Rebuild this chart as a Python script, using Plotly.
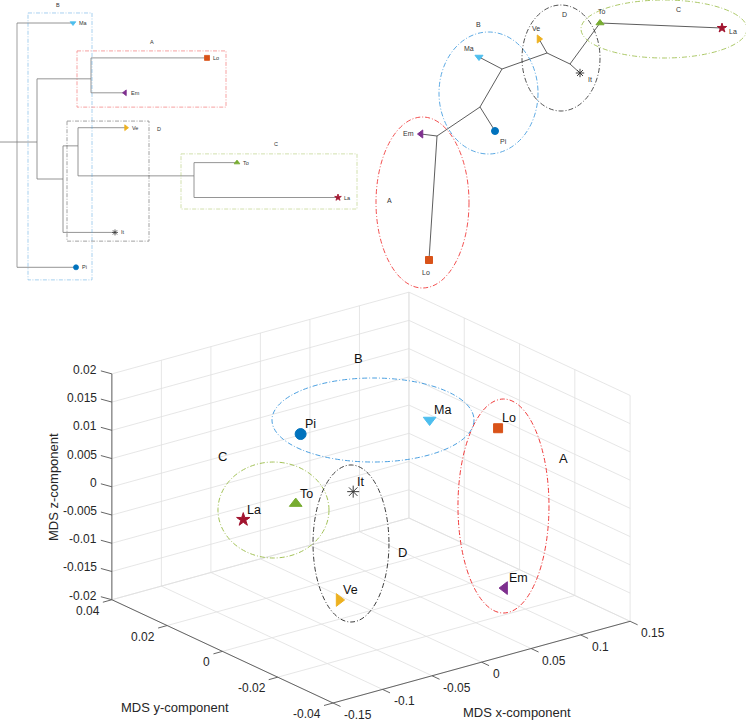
import numpy as np
import plotly.graph_objects as go

FONT = "Liberation Sans, Arial, Helvetica, sans-serif"
INK = "#262626"
FIG_W, FIG_H = 746, 720

# ---------------- languages ----------------
langs = ["Pi", "Ma", "Lo", "Em", "Ve", "It", "To", "La"]
lang_colors = ["#0072BD", "#4DBEEE", "#D95319", "#7E2F8E", "#EDB120", "#3a3a3a", "#77AC30", "#A2142F"]
lang_symbols = ["circle", "triangle-down", "square", "triangle-left", "triangle-right",
                "asterisk-open", "triangle-up", "star"]
COL = dict(zip(langs, lang_colors))
SYM = dict(zip(langs, lang_symbols))

# ---------------- clusters ----------------
clusters = ["A", "B", "C", "D"]
cluster_members = [["Lo", "Em"], ["Ma", "Pi"], ["To", "La"], ["Ve", "It"]]
cluster_colors = ["#f03c3c", "#4a9fe0", "#a3c257", "#3c3c3c"]
CCOL = dict(zip(clusters, cluster_colors))

# ---------------- dendrogram (top-left) ----------------
dn_nodes = ["root", "Ma", "mid", "Pi", "Agrp", "Lo", "Em", "Dgrp", "VTL", "It", "Ve", "TL", "To", "La"]
dn_parent = [None, "root", "root", "root", "mid", "Agrp", "Agrp", "mid", "Dgrp", "Dgrp", "VTL", "VTL", "TL", "TL"]
dn_dist = [0.0, 0.056, 0.020, 0.059, 0.074, 0.190, 0.108, 0.046, 0.061, 0.098, 0.109, 0.177, 0.220, 0.321]
dn_pos = [4.41, 1, 4.41, 8, 2.60, 2, 3, 5.47, 4.52, 7, 4, 5.38, 5, 6]
dn_root_stem = 0.017
# cluster boxes on the dendrogram: (dist0, dist1, pos0, pos1)
dn_box_d0 = [0.060, 0.011, 0.164, 0.050]
dn_box_d1 = [0.209, 0.075, 0.340, 0.132]
dn_box_p0 = [1.80, 0.713, 4.75, 3.81]
dn_box_p1 = [3.41, 8.36, 6.33, 7.25]
dn_lab_d = [0.135, 0.041, 0.259, 0.142]
dn_lab_p = [1.544, 0.484, 4.47, 4.04]

# ---------------- unrooted tree (top-right) ----------------
ut_nodes = ["To", "La", "n1", "It", "n2", "Ve", "n3", "Ma", "n4", "Pi", "n5", "Em", "Lo"]
ut_x = [2.30, 3.52, 2.00, 2.10, 1.77, 1.69, 1.32, 1.09, 1.10, 1.25, 0.67, 0.51, 0.59]
ut_y = [2.77, 2.72, 2.36, 2.27, 2.47, 2.61, 2.31, 2.43, 1.93, 1.69, 1.64, 1.66, 0.40]
ut_edges = [("To", "La"), ("To", "n1"), ("n1", "It"), ("n1", "n2"), ("n2", "Ve"), ("n2", "n3"),
            ("n3", "Ma"), ("n3", "n4"), ("n4", "Pi"), ("n4", "n5"), ("n5", "Em"), ("n5", "Lo")]
# cluster ellipses: bounding boxes
ut_ell_x0 = [0.06, 0.69, 2.11, 1.52]
ut_ell_x1 = [0.99, 1.68, 3.77, 2.30]
ut_ell_y0 = [0.12, 1.46, 2.42, 1.89]
ut_ell_y1 = [1.83, 2.68, 3.00, 2.95]
ut_lab_x = [0.19, 1.08, 3.08, 1.94]
ut_lab_y = [1.00, 2.76, 2.91, 2.86]

# ---------------- MDS 3-D coordinates ----------------
mds_x = [-0.085, 0.129, 0.106, 0.107, -0.102, -0.004, -0.076, -0.115]
mds_y = [-0.005, 0.025, -0.008, -0.010, -0.025, 0.005, 0.000, 0.005]
mds_z = [0.0165, 0.0018, 0.0090, -0.0189, -0.0075, 0.0001, 0.0026, 0.0005]

x_ticks = [-0.15, -0.1, -0.05, 0, 0.05, 0.1, 0.15]
x_tick_labels = ["-0.15", "-0.1", "-0.05", "0", "0.05", "0.1", "0.15"]
y_ticks = [-0.04, -0.02, 0, 0.02, 0.04]
y_tick_labels = ["-0.04", "-0.02", "0", "0.02", "0.04"]
z_ticks = [-0.02, -0.015, -0.01, -0.005, 0, 0.005, 0.01, 0.015, 0.02]
z_tick_labels = ["-0.02", "-0.015", "-0.01", "-0.005", "0", "0.005", "0.01", "0.015", "0.02"]

fig = go.Figure()

# ======================= dendrogram =======================
idx = {n: i for i, n in enumerate(dn_nodes)}
hx, hy, vx, vy, rvx, rvy = [], [], [], [], [], []
for n, p in zip(dn_nodes, dn_parent):
    if p is None:
        continue
    i, j = idx[n], idx[p]
    tx, ty = (rvx, rvy) if p == "root" else (vx, vy)
    tx += [dn_dist[j], dn_dist[j], None]
    ty += [dn_pos[j], dn_pos[i], None]
    hx += [dn_dist[j], dn_dist[i], None]
    hy += [dn_pos[i], dn_pos[i], None]
r = idx["root"]
hx += [dn_dist[r] - dn_root_stem, dn_dist[r], None]
hy += [dn_pos[r], dn_pos[r], None]
fig.add_trace(go.Scatter(x=rvx, y=rvy, mode="lines", line=dict(color="#cfcfcf", width=2),
                         hoverinfo="skip", xaxis="x", yaxis="y"))
fig.add_trace(go.Scatter(x=vx + hx, y=vy + hy, mode="lines", line=dict(color="#7a7a7a", width=0.8),
                         hoverinfo="skip", xaxis="x", yaxis="y"))
for lg in langs:
    i = idx[lg]
    fig.add_trace(go.Scatter(x=[dn_dist[i]], y=[dn_pos[i]], mode="markers",
                             marker=dict(symbol=SYM[lg], size=5, color=COL[lg],
                                         line=dict(color=COL[lg], width=0.8)),
                             hoverinfo="skip", xaxis="x", yaxis="y"))
    fig.add_annotation(x=dn_dist[i], y=dn_pos[i], xref="x", yref="y", text=lg, showarrow=False,
                       xanchor="left", yanchor="middle", xshift=4,
                       font=dict(family=FONT, size=5.5, color="#333"))
for k, c in enumerate(clusters):
    fig.add_shape(type="rect", xref="x", yref="y", x0=dn_box_d0[k], x1=dn_box_d1[k],
                  y0=dn_box_p0[k], y1=dn_box_p1[k],
                  line=dict(color=CCOL[c], width=0.8, dash="4px,1.5px,1px,1.5px"), opacity=0.6)
    fig.add_annotation(x=dn_lab_d[k], y=dn_lab_p[k], xref="x", yref="y", text=c, showarrow=False,
                       xanchor="center", yanchor="middle",
                       font=dict(family=FONT, size=5.5, color="#333"))

# ======================= unrooted tree =======================
uidx = {n: i for i, n in enumerate(ut_nodes)}
ex, ey = [], []
for a, b in ut_edges:
    ex += [ut_x[uidx[a]], ut_x[uidx[b]], None]
    ey += [ut_y[uidx[a]], ut_y[uidx[b]], None]
fig.add_trace(go.Scatter(x=ex, y=ey, mode="lines", line=dict(color="#333333", width=0.8),
                         hoverinfo="skip", xaxis="x2", yaxis="y2"))
ut_label_shift = {"To": (2, 12), "La": (11, -3), "It": (10, -6), "Ve": (-3, 11),
                  "Ma": (-10, 9), "Pi": (8, -10), "Em": (-13, 1), "Lo": (-3, -12)}
for lg in langs:
    i = uidx[lg]
    fig.add_trace(go.Scatter(x=[ut_x[i]], y=[ut_y[i]], mode="markers",
                             marker=dict(symbol=SYM[lg], size=7, color=COL[lg],
                                         line=dict(color=COL[lg], width=1)),
                             hoverinfo="skip", xaxis="x2", yaxis="y2"))
    sx_, sy_ = ut_label_shift[lg]
    fig.add_annotation(x=ut_x[i], y=ut_y[i], xref="x2", yref="y2", text=lg, showarrow=False,
                       xanchor="center", yanchor="middle",
                       xshift=sx_, yshift=sy_, font=dict(family=FONT, size=7, color="#333"))
for k, c in enumerate(clusters):
    fig.add_shape(type="circle", xref="x2", yref="y2", x0=ut_ell_x0[k], x1=ut_ell_x1[k],
                  y0=ut_ell_y0[k], y1=ut_ell_y1[k],
                  line=dict(color=CCOL[c], width=0.9, dash="5px,2px,1px,2px"))
    fig.add_annotation(x=ut_lab_x[k], y=ut_lab_y[k], xref="x2", yref="y2", text=c, showarrow=False,
                       xanchor="center", yanchor="middle",
                       font=dict(family=FONT, size=7, color="#333"))

# ======================= 3-D MDS (orthographic projection) =======================
AZ, EL = 37.5, 21.0
BOX = (1.0, 0.97, 0.646)
XL, YL, ZL = (x_ticks[0], x_ticks[-1]), (y_ticks[0], y_ticks[-1]), (z_ticks[0], z_ticks[-1])
S = 374.5  # pixels per projected unit
OX, OY = 333, 703  # pixel position of the front-bottom corner


def proj(x, y, z):
    x = np.asarray(x, float); y = np.asarray(y, float); z = np.asarray(z, float)
    xn = (x - XL[0]) / (XL[1] - XL[0]) * BOX[0]
    yn = (y - YL[0]) / (YL[1] - YL[0]) * BOX[1]
    zn = (z - ZL[0]) / (ZL[1] - ZL[0]) * BOX[2]
    a, e = np.deg2rad(AZ), np.deg2rad(EL)
    sx = xn * np.cos(a) - yn * np.sin(a)
    sy = (xn * np.sin(a) + yn * np.cos(a)) * np.sin(e) + zn * np.cos(e)
    return sx, sy


def seg_list(segs):
    xs, ys = [], []
    for (p0, p1) in segs:
        a0 = proj(*p0); a1 = proj(*p1)
        xs += [float(a0[0]), float(a1[0]), None]
        ys += [float(a0[1]), float(a1[1]), None]
    return xs, ys


grid = []
for xt in x_ticks:
    grid.append(((xt, YL[1], ZL[0]), (xt, YL[1], ZL[1])))
    grid.append(((xt, YL[0], ZL[0]), (xt, YL[1], ZL[0])))
for zt in z_ticks:
    grid.append(((XL[0], YL[1], zt), (XL[1], YL[1], zt)))
    grid.append(((XL[1], YL[0], zt), (XL[1], YL[1], zt)))
for yt in y_ticks:
    grid.append(((XL[1], yt, ZL[0]), (XL[1], yt, ZL[1])))
    grid.append(((XL[0], yt, ZL[0]), (XL[1], yt, ZL[0])))
gx, gy = seg_list(grid)
fig.add_trace(go.Scatter(x=gx, y=gy, mode="lines", line=dict(color="#e0e0e0", width=0.8),
                         hoverinfo="skip", xaxis="x3", yaxis="y3"))

axes_lines = [((XL[0], YL[1], ZL[0]), (XL[0], YL[1], ZL[1])),
              ((XL[0], YL[0], ZL[0]), (XL[0], YL[1], ZL[0])),
              ((XL[0], YL[0], ZL[0]), (XL[1], YL[0], ZL[0]))]
ax_x, ax_y = seg_list(axes_lines)

tick_x, tick_y = [], []
tick_sets = [
    ([(XL[0], YL[1], zt) for zt in z_ticks], z_tick_labels, (-11, 3), dict(xanchor="right", xshift=-13, yshift=4)),
    ([(XL[0], yt, ZL[0]) for yt in y_ticks], y_tick_labels, (-9, -2.5), dict(xanchor="right", xshift=-10, yshift=-11)),
    ([(xt, YL[0], ZL[0]) for xt in x_ticks], x_tick_labels, (7.5, -3.5), dict(xanchor="left", xshift=9, yshift=-12)),
]
for pts, labels, (dx, dy), anno in tick_sets:
    for p, lab in zip(pts, labels):
        px, py = proj(*p)
        px, py = float(px), float(py)
        tick_x += [px, px + dx / S, None]
        tick_y += [py, py + dy / S, None]
        fig.add_annotation(x=px, y=py, xref="x3", yref="y3", text=lab, showarrow=False,
                           yanchor="middle", font=dict(family=FONT, size=12, color=INK), **anno)
fig.add_trace(go.Scatter(x=ax_x + tick_x, y=ax_y + tick_y, mode="lines",
                         line=dict(color="#555555", width=0.9), hoverinfo="skip",
                         xaxis="x3", yaxis="y3"))

px_pts, py_pts = proj(mds_x, mds_y, mds_z)
mds_sizes = {"Pi": 11, "Ma": 11, "Lo": 9, "Em": 11, "Ve": 11, "It": 10, "To": 11, "La": 10}
for k, lg in enumerate(langs):
    fig.add_trace(go.Scatter(x=[float(px_pts[k])], y=[float(py_pts[k])], mode="markers",
                             marker=dict(symbol=SYM[lg], size=mds_sizes[lg], color=COL[lg],
                                         line=dict(color=COL[lg], width=1)),
                             hoverinfo="skip", xaxis="x3", yaxis="y3"))
    fig.add_annotation(x=float(px_pts[k]), y=float(py_pts[k]), xref="x3", yref="y3", text=lg,
                       showarrow=False, xanchor="left", yanchor="middle", xshift=2, yshift=10,
                       font=dict(family=FONT, size=12.5, color="#111"))

# screen-space cluster ellipses over the 3-D view (paper coordinates)
e3_x0 = [0.6139, 0.3646, 0.2922, 0.4196]
e3_x1 = [0.7359, 0.6354, 0.4410, 0.5214]
e3_y0 = [0.1486, 0.3583, 0.2250, 0.1361]
e3_y1 = [0.4458, 0.4750, 0.3583, 0.3542]
e3_lab_x = [0.7560, 0.4799, 0.2989, 0.5389]
e3_lab_y = [0.3625, 0.5014, 0.3653, 0.2333]
for k, c in enumerate(clusters):
    fig.add_shape(type="circle", xref="paper", yref="paper", x0=e3_x0[k], x1=e3_x1[k],
                  y0=e3_y0[k], y1=e3_y1[k], layer="above",
                  line=dict(color=CCOL[c], width=1, dash="5px,2px,1px,2px"))
    fig.add_annotation(x=e3_lab_x[k], y=e3_lab_y[k], xref="paper", yref="paper", text=c,
                       xanchor="center", yanchor="middle",
                       showarrow=False, font=dict(family=FONT, size=13, color="#111"))

# axis titles
title_font = dict(family=FONT, size=13, color=INK)
fig.add_annotation(x=53 / FIG_W, y=1 - 487 / FIG_H, xref="paper", yref="paper", text="MDS z-component",
                   textangle=-90, showarrow=False, xanchor="center", yanchor="middle", font=title_font)
fig.add_annotation(x=175 / FIG_W, y=1 - 707 / FIG_H, xref="paper", yref="paper", text="MDS y-component",
                   showarrow=False, xanchor="center", yanchor="middle", font=title_font)
fig.add_annotation(x=517 / FIG_W, y=1 - 712 / FIG_H, xref="paper", yref="paper", text="MDS x-component",
                   showarrow=False, xanchor="center", yanchor="middle", font=title_font)

hidden = dict(visible=False, fixedrange=True)
fig.update_layout(
    width=FIG_W, height=FIG_H, margin=dict(l=0, r=0, t=0, b=0),
    paper_bgcolor="white", plot_bgcolor="rgba(0,0,0,0)", showlegend=False,
    xaxis=dict(domain=[0, 370 / FIG_W], range=[-0.017, 0.353], **hidden),
    yaxis=dict(domain=[1 - 290 / FIG_H, 1], range=[8.65, 0.341], **hidden),
    xaxis2=dict(domain=[370 / FIG_W, 1], range=[0, 3.76], **hidden),
    yaxis2=dict(domain=[1 - 300 / FIG_H, 1], range=[0, 3.0], **hidden),
    xaxis3=dict(domain=[0, 1], range=[-OX / S, (FIG_W - OX) / S], **hidden),
    yaxis3=dict(domain=[0, 1], range=[-(FIG_H - OY) / S, OY / S], **hidden),
)
fig.write_html("out.html", config={"displayModeBar": False},
               post_script="document.body.style.margin='0';document.body.style.overflow='hidden';")
